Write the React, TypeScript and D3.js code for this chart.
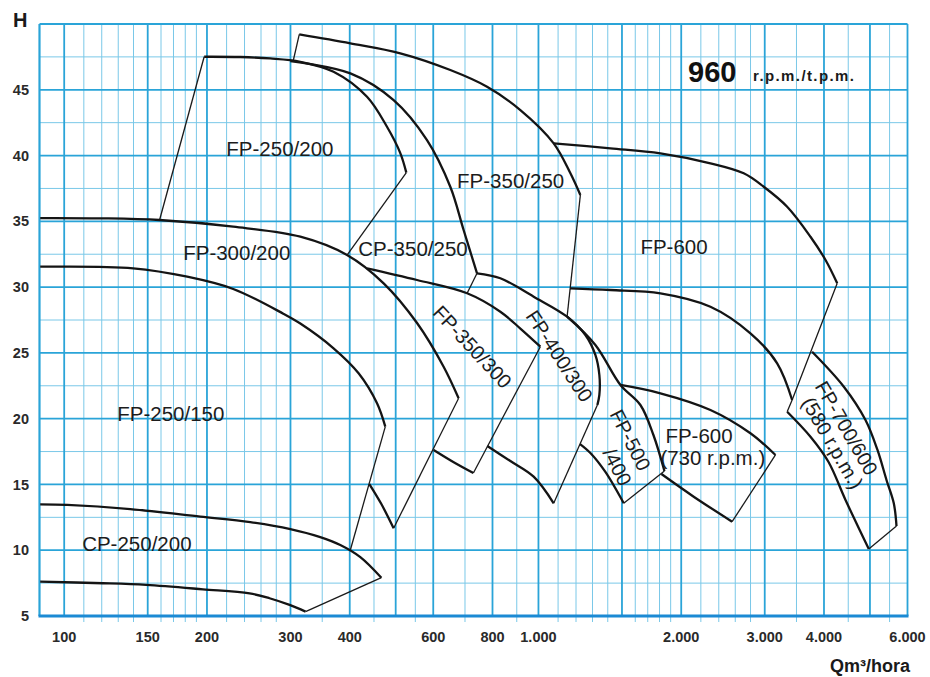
import React from 'react';
import * as d3 from 'd3';

type P = [number, number];

// ---- axis values ----
const xTickValues = [100, 150, 200, 300, 400, 600, 800, 1000, 2000, 3000, 4000, 6000];
const xTickLabels = ['100', '150', '200', '300', '400', '600', '800', '1.000', '2.000', '3.000', '4.000', '6.000'];
const xMajorGrid = [100, 150, 200, 300, 400, 500, 600, 800, 1000, 1500, 2000, 3000, 4000, 5000, 6000];
const xMinorGrid = [110, 120, 130, 140, 160, 170, 180, 190, 220, 240, 260, 280, 350, 450, 550, 700, 900,
  1100, 1200, 1300, 1400, 1600, 1700, 1800, 1900, 2200, 2400, 2600, 2800, 3500, 4500, 5500];
const yTickValues = [5, 10, 15, 20, 25, 30, 35, 40, 45];
const yMinorGrid = [7.5, 12.5, 17.5, 22.5, 27.5, 32.5, 37.5, 42.5, 47.5];

// ---- impeller curves (Q m3/h, H m) ----
const cp250_200Min: P[] = [[89, 7.61], [120.7, 7.49], [148.9, 7.36], [196.1, 7.03], [246, 6.72], [271, 6.35], [298.7, 5.84], [322.8, 5.33]];
const cp250_200Max: P[] = [[89, 13.48], [101.5, 13.44], [137.8, 13.13], [193.6, 12.56], [246.8, 12.14], [299.8, 11.61], [346.7, 11.0], [382.1, 10.4], [421.1, 9.48], [466.4, 7.91]];
const fp250_150Max: P[] = [[89, 31.55], [139.8, 31.43], [181.7, 30.79], [227.2, 29.86], [289.7, 27.98], [314.7, 27.23], [369.8, 25.35], [417.6, 23.45], [456.7, 21.17], [475.4, 19.39]];
const fp300_200Max: P[] = [[89, 35.25], [119.1, 35.23], [158.6, 35.1], [227.2, 34.59], [314.7, 33.83], [394.8, 32.44], [471.6, 30.29], [554.6, 27.27], [631, 23.95], [678.7, 21.55]];
const fp300_200Min: P[] = [[440, 15.03], [466.4, 13.51], [495, 11.67]];
const fp250_200Max: P[] = [[197.3, 47.51], [235.1, 47.49], [271.9, 47.38], [314.7, 47.13], [369.8, 46.37], [435, 44.47], [479.3, 42.19], [511.3, 40.19], [526.5, 38.7]];
const fp350_250Min: P[] = [[299.8, 47.18], [401.2, 46.25], [495, 44.22], [582.1, 41.18], [651.8, 37.63], [695.3, 34.34], [742.1, 31.05]];
const fp350_250Max: P[] = [[313.1, 49.21], [401.2, 48.53], [511.3, 47.77], [651.8, 46.5], [779.1, 45.23], [915.9, 43.46], [1076.7, 40.93], [1167.8, 38.65], [1225.6, 37.0]];
const fp350_300Max: P[] = [[435, 31.43], [554.6, 30.54], [707.3, 29.53], [831.1, 28.13], [915.9, 26.85], [1009.3, 25.47]];
const fp350_300Min: P[] = [[601.1, 17.62], [661.3, 16.71], [729.1, 15.87]];
const fp400_300Max: P[] = [[742.1, 31.05], [831.1, 30.67], [977, 29.27], [1149.1, 27.75], [1256, 26.36], [1318.3, 24.84], [1344.1, 23.32], [1344.1, 21.8], [1331.2, 21.04]];
const fp400_300Min: P[] = [[780.2, 17.92], [872.5, 16.78], [977, 15.59], [1076.7, 13.57]];
const fp500_400Max: P[] = [[1149.1, 27.75], [1318.3, 25.6], [1489, 22.56], [1640.4, 21.04], [1747.5, 18.76], [1843.5, 16.02]];
const fp500_400Min: P[] = [[1224, 18.07], [1286.8, 17.39], [1383.9, 15.95], [1512.9, 13.57]];
const fp600Max: P[] = [[1076.7, 40.93], [1418.2, 40.55], [1807.7, 40.17], [2304.7, 39.41], [2709, 38.65], [2985.4, 37.63], [3345, 36.11], [3746, 33.83], [4030.1, 32.06], [4265.5, 30.29]];
const fp600Min: P[] = [[1166, 29.91], [1418.2, 29.78], [1807.7, 29.53], [2304.7, 28.51], [2798.5, 26.49], [3186.6, 24.21], [3426.9, 21.42]];
const fp600_730Max: P[] = [[1489, 22.56], [1807.7, 21.93], [2304.7, 20.66], [2798.5, 18.89], [3160.3, 17.24]];
const fp600_730Min: P[] = [[1816.8, 15.79], [2125, 14.07], [2560.7, 12.17]];
const fp700_600Max: P[] = [[3775.9, 25.09], [4404.5, 22.43], [4892.7, 19.9], [5186.1, 17.62], [5418.1, 15.34], [5613.7, 13.57], [5687.9, 11.84]];
const fp700_600Min: P[] = [[3345, 20.53], [3746, 18.63], [4089.5, 16.71], [4440.6, 13.82], [4972.2, 10.09]];

// ---- envelope boundary lines ----
const cp250_200Edge: P[] = [[322.8, 5.33], [466.4, 7.91]];
const fp250_150Edge: P[] = [[475.4, 19.39], [401.2, 10.02]];
const fp300_200Edge: P[] = [[678.7, 21.55], [495, 11.67]];
const fp250_200EdgeL: P[] = [[158.9, 35.1], [197.3, 47.51]];
const fp250_200EdgeR: P[] = [[526.5, 38.7], [394.8, 32.44]];
const fp350_250EdgeL: P[] = [[313.1, 49.21], [303.7, 47.13]];
const fp350_250EdgeR: P[] = [[1225.6, 37.0], [1149.1, 27.75]];
const cp350_250Edge: P[] = [[742.1, 31.05], [707.3, 29.53]];
const fp350_300Edge: P[] = [[1009.3, 25.47], [729.1, 15.87]];
const fp400_300Edge: P[] = [[1331.2, 21.04], [1076.7, 13.57]];
const fp500_400Edge: P[] = [[1843.5, 16.02], [1512.9, 13.57]];
const fp600Edge: P[] = [[4265.5, 30.29], [3426.9, 21.42], [3345, 20.53]];
const fp600_730Edge: P[] = [[3160.3, 17.24], [2560.7, 12.17]];
const fp700_600Edge: P[] = [[4972.2, 10.09], [5687.9, 11.84]];

const thickCurves = [cp250_200Min, cp250_200Max, fp250_150Max, fp300_200Max, fp300_200Min, fp250_200Max,
  fp350_250Min, fp350_250Max, fp350_300Max, fp350_300Min, fp400_300Max, fp400_300Min, fp500_400Max,
  fp500_400Min, fp600Max, fp600Min, fp600_730Max, fp600_730Min, fp700_600Max, fp700_600Min];
const thinLines = [cp250_200Edge, fp250_150Edge, fp300_200Edge, fp250_200EdgeL, fp250_200EdgeR, fp350_250EdgeL,
  fp350_250EdgeR, cp350_250Edge, fp350_300Edge, fp400_300Edge, fp500_400Edge, fp600Edge, fp600_730Edge, fp700_600Edge];

// ---- labels ----
const flatLabels = ['FP-250/200', 'FP-350/250', 'CP-350/250', 'FP-300/200', 'FP-250/150', 'CP-250/200', 'FP-600', 'FP-600', '(730 r.p.m.)'];
const flatLabelAt: P[] = [[219.7, 39.97], [673.6, 37.53], [417, 32.36], [178.2, 32.06], [129.4, 19.82], [109.1, 9.94], [1640.4, 32.52], [1852, 18.15], [1807.7, 16.48]];
const tiltLabels = ['FP-350/300', 'FP-400/300', 'FP-500', '/400', 'FP-700/600', '(580 r.p.m.)'];
const tiltLabelAt: P[] = [[725.6, 25.45], [1106.9, 24.76], [1563, 18.38], [1467.2, 16.33], [4462.4, 19.29], [4169.6, 18.15]];
const tiltAngles = [47, 57, 63, 63, 60, 60];

export default function App() {
  const W = 930, HH = 677;
  const x = d3.scaleLog().domain([88.7, 6000]).range([39.5, 907.5]);
  const y = d3.scaleLinear().domain([5, 50]).range([616, 24]);
  const smooth = d3.line<P>().x(d => x(d[0])).y(d => y(d[1])).curve(d3.curveCatmullRom.alpha(0.5));
  const straight = d3.line<P>().x(d => x(d[0])).y(d => y(d[1]));
  const font = "'Liberation Sans', Arial, sans-serif";
  const [x0, x1] = x.range();
  const [yBot, yTop] = y.range();
  const minorC = '#7ac8e8';
  const majorC = '#2aa4d8';
  return (
    <svg width={W} height={HH} style={{ position: 'absolute', left: 0, top: 0, display: 'block' }} fontFamily={font}>
      <rect width={W} height={HH} fill="#fff" />
      {yMinorGrid.map(v => <line key={'ym' + v} x1={x0} x2={x1} y1={y(v)} y2={y(v)} stroke={minorC} strokeWidth={1} />)}
      {xMinorGrid.map(v => <line key={'xm' + v} x1={x(v)} x2={x(v)} y1={yTop} y2={yBot + 6} stroke={minorC} strokeWidth={1} />)}
      {yTickValues.map(v => <line key={'yM' + v} x1={x0} x2={x1} y1={y(v)} y2={y(v)} stroke={majorC} strokeWidth={1.8} />)}
      {xMajorGrid.map(v => <line key={'xM' + v} x1={x(v)} x2={x(v)} y1={yTop} y2={yBot} stroke={majorC} strokeWidth={1.8} />)}
      <line x1={x0} x2={x0} y1={yTop} y2={yBot} stroke={majorC} strokeWidth={2.2} />
      <line x1={x0} x2={x1} y1={yTop} y2={yTop} stroke={majorC} strokeWidth={2.2} />
      <line x1={x0 - 1} x2={x1 + 1} y1={yBot} y2={yBot} stroke="#1b8ad4" strokeWidth={3} />

      {thinLines.map((d, i) => <path key={'t' + i} d={straight(d) || ''} fill="none" stroke="#1a1a1a" strokeWidth={1.3} />)}
      {thickCurves.map((d, i) => <path key={'c' + i} d={smooth(d) || ''} fill="none" stroke="#141414" strokeWidth={2.3} strokeLinejoin="round" />)}

      {yTickValues.map(v => (
        <text key={'yl' + v} x={29} y={y(v)} dy="0.35em" textAnchor="end" fontSize={14.5} fontWeight="bold" fill="#2a2a2a">{v}</text>
      ))}
      {xTickValues.map((v, i) => (
        <text key={'xl' + v} x={x(v)} y={641.5} textAnchor="middle" fontSize={14.5} fontWeight="bold" fill="#2a2a2a">{xTickLabels[i]}</text>
      ))}
      <text x={13} y={27} fontSize={20} fontWeight="bold" fill="#1a1a1a">H</text>
      <text x={910} y={672} textAnchor="end" fontSize={18} fontWeight="bold" fill="#1a1a1a">Qm³/hora</text>
      <text x={688} y={81.5} fontSize={29} fontWeight="bold" fill="#111">960</text>
      <text x={753} y={81} fontSize={15} fontWeight="bold" letterSpacing={1.4} fill="#1a1a1a">r.p.m./t.p.m.</text>

      {flatLabels.map((t, i) => (
        <text key={'fl' + i} x={x(flatLabelAt[i][0])} y={y(flatLabelAt[i][1])} fontSize={20.5} fill="#1c1c1c">{t}</text>
      ))}
      {tiltLabels.map((t, i) => (
        <text key={'tl' + i} transform={`translate(${x(tiltLabelAt[i][0])},${y(tiltLabelAt[i][1])}) rotate(${tiltAngles[i]})`}
          textAnchor="middle" dy="0.35em" fontSize={20} fill="#1c1c1c">{t}</text>
      ))}
    </svg>
  );
}
